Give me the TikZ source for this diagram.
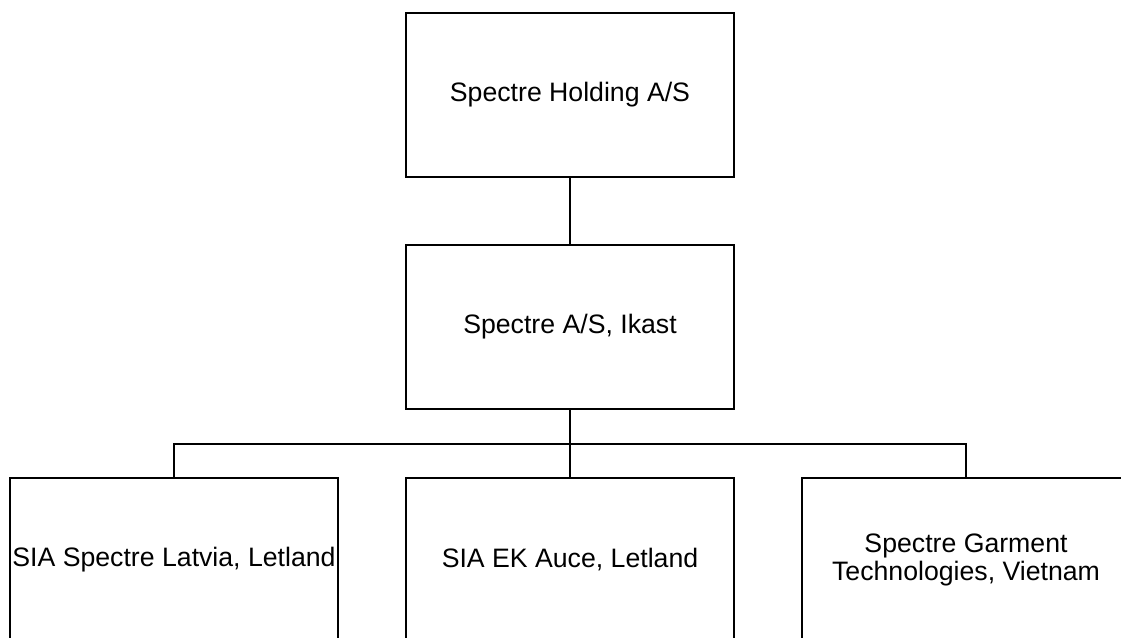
\documentclass[tikz,border=0pt]{standalone}
\usepackage{fontspec}
\setmainfont{Liberation Sans}

\tikzset{every picture/.style={line width=0.75pt}}
\tikzset{
  entity/.style={draw, line width=1.3pt, rectangle, inner sep=0pt, align=center,
    minimum width=246pt, minimum height=123pt, font=\fontsize{20}{20.5}\selectfont},
  link/.style={line width=1.3pt},
  thinlink/.style={line width=0.8pt}
}

\begin{document}
\begin{tikzpicture}[x=0.75pt,y=0.75pt,yscale=-1,xscale=1]
		\useasboundingbox (0,0) rectangle (1121,637);
		\clip (0,0) rectangle (1121,637);

		%Shape: Rectangle [id:holding] 
		\node[entity] (holding) at (570,95) {Spectre Holding A/S};
		%Shape: Rectangle [id:ikast] 
		\node[entity] (ikast) at (570,327) {Spectre A/S, Ikast};
		%Shape: Rectangle [id:latvia] 
		\node[entity] (latvia) at (174,560) {SIA Spectre Latvia, Letland};
		%Shape: Rectangle [id:auce] 
		\node[entity] (auce) at (570,560) {SIA EK Auce, Letland};
		%Shape: Rectangle [id:vietnam] 
		\node[entity] (vietnam) at (966,560) {Spectre Garment\\Technologies, Vietnam};

		%Straight Lines 
		\draw[link] (holding.south) -- (ikast.north);
		\coordinate (bus) at (570,444);
		\draw[link] (ikast.south) -- (bus);
		\draw[link] (latvia.north) |- (bus);
		\draw[thinlink] (bus) -| (vietnam.north);
		\draw[thinlink] (bus) -- (auce.north);

\end{tikzpicture}
\end{document}
